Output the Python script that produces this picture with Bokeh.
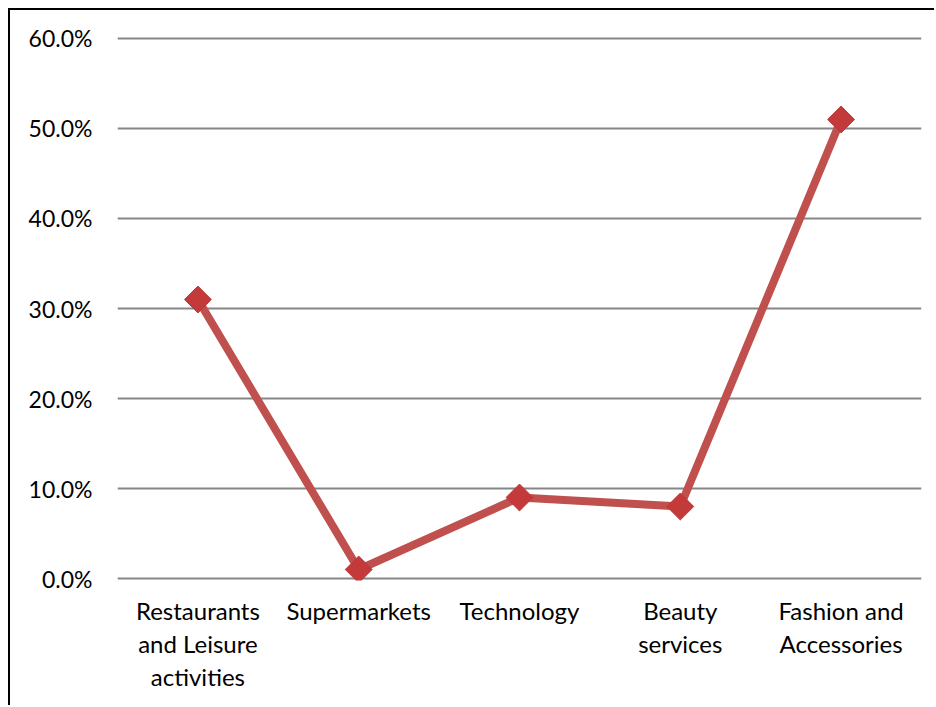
import math
from bokeh.plotting import figure
from bokeh.models import Range1d, NumeralTickFormatter, FixedTicker
from bokeh.embed import file_html
from bokeh.resources import INLINE

categories = ["Restaurants\nand Leisure\nactivities", "Supermarkets", "Technology",
              "Beauty\nservices", "Fashion and\nAccessories"]
values = [0.31, 0.01, 0.09, 0.08, 0.51]
y_ticks = [0.0, 0.1, 0.2, 0.3, 0.4, 0.5, 0.6]

FONT = "Lato"

p = figure(x_range=categories, y_range=Range1d(-0.002222, 0.602222), width=926, height=697,
           output_backend="svg", toolbar_location=None,
           min_border_left=107, min_border_right=15, min_border_top=26, min_border_bottom=127)
p.margin = (8, 0, 0, 8)
p.styles = {"border-top": "2px solid black", "border-left": "2px solid black"}
p.outline_line_color = None
p.background_fill_color = "white"
p.border_fill_color = "white"

p.line(x=categories, y=values, line_color="#C0504D", line_width=8)
p.scatter(x=categories, y=values, marker="square", angle=math.pi / 4, size=19,
          fill_color="#C4393A", line_color="#B83A37", line_width=1)

p.yaxis.ticker = FixedTicker(ticks=y_ticks)
p.yaxis.formatter = NumeralTickFormatter(format="0.0%")
p.yaxis.axis_line_color = None
p.yaxis.major_tick_line_color = None
p.yaxis.minor_tick_line_color = None
p.yaxis.major_label_standoff = 19
p.yaxis.major_label_text_font = FONT
p.yaxis.major_label_text_font_size = "23px"
p.yaxis.major_label_text_color = "black"

p.xaxis.axis_line_color = None
p.xaxis.major_tick_line_color = None
p.xaxis.major_label_standoff = 9
p.xaxis.major_label_text_font = FONT
p.xaxis.major_label_text_font_size = "24px"
p.xaxis.major_label_text_color = "black"
p.xaxis.major_label_text_line_height = 1.15

p.xgrid.grid_line_color = None
p.ygrid.grid_line_color = "#868686"
p.ygrid.grid_line_width = 2

open("out.html", "w").write(file_html(p, INLINE))
